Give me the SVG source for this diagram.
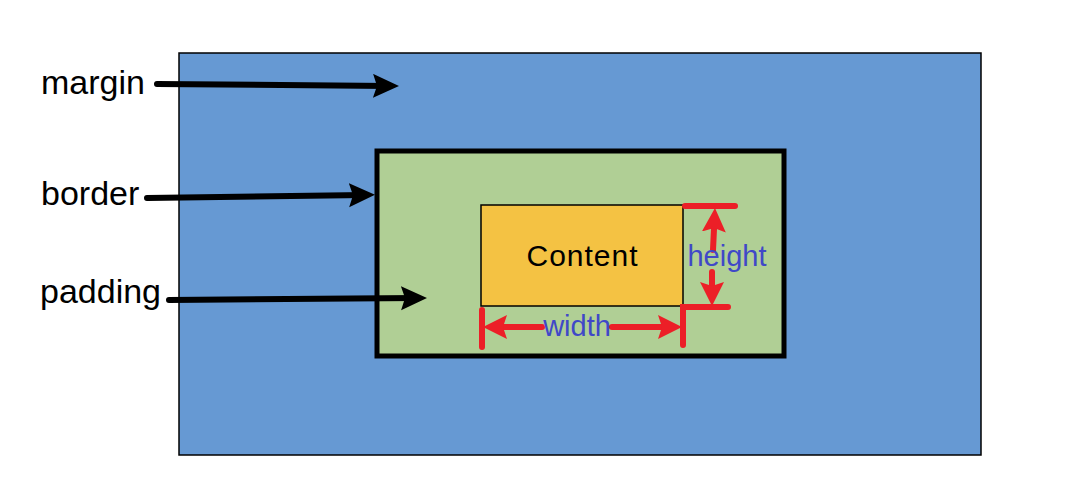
<svg xmlns="http://www.w3.org/2000/svg" width="1076" height="492" viewBox="0 0 1076 492">
<style>
.lbl{font-family:"Liberation Sans",Arial,sans-serif;font-size:34px;fill:#000}
.dim{font-family:"Liberation Sans",Arial,sans-serif;font-size:29px;fill:#4048c8}
.blk{stroke:#000;stroke-width:6;stroke-linecap:round;fill:none}
.red{stroke:#ec1f27;stroke-width:6;stroke-linecap:round;fill:none}
</style>
<defs>
<marker id="ab" markerUnits="userSpaceOnUse" markerWidth="28" markerHeight="26" refX="16" refY="12" orient="auto"><path d="M0,0 L26,12 L0,24 L4,12 Z" fill="#000"/></marker>
<marker id="ar" markerUnits="userSpaceOnUse" markerWidth="28" markerHeight="26" refX="14" refY="12" orient="auto"><path d="M0,0 L24,12 L0,24 L4,12 Z" fill="#ec1f27"/></marker>
</defs>
<rect width="1076" height="492" fill="#fff"/>
<g id="margin-box"><rect x="179" y="53" width="802" height="402" fill="#6699d3" stroke="#000" stroke-width="1.5"/></g>
<g id="border-box"><rect x="377" y="151" width="407" height="205" fill="#b0cf95" stroke="#000" stroke-width="5"/></g>
<g id="content-box"><rect x="481" y="205" width="202" height="101" fill="#f4c243" stroke="#000" stroke-width="1.5"/><text x="582" y="266" text-anchor="middle" font-family="Liberation Sans,Arial,sans-serif" font-size="30" textLength="111">Content</text></g>
<g id="labels">
<text class="lbl" x="41" y="94">margin</text>
<text class="lbl" x="41" y="205">border</text>
<text class="lbl" x="40" y="303">padding</text>
</g>
<g id="connectors">
<path class="blk" d="M157,84 L389,86" marker-end="url(#ab)"/>
<path class="blk" d="M147,198 L365,195" marker-end="url(#ab)"/>
<path class="blk" d="M169,300 L417,298" marker-end="url(#ab)"/>
</g>
<g id="dimensions">
<path class="red" d="M685,206 L735,206"/>
<path class="red" d="M683,345 L683,307 L728,307"/>
<path class="red" d="M482,310 L482,347"/>
<path class="red" d="M713,250 L714.5,218" marker-end="url(#ar)"/>
<path class="red" d="M712,272 L712,296" marker-end="url(#ar)"/>
<path class="red" d="M542,327 L493,327" marker-end="url(#ar)"/>
<path class="red" d="M612,327 L672,327" marker-end="url(#ar)"/>
<text class="dim" x="727" y="266" text-anchor="middle">height</text>
<text class="dim" x="577" y="336" text-anchor="middle">width</text>
</g>
</svg>
